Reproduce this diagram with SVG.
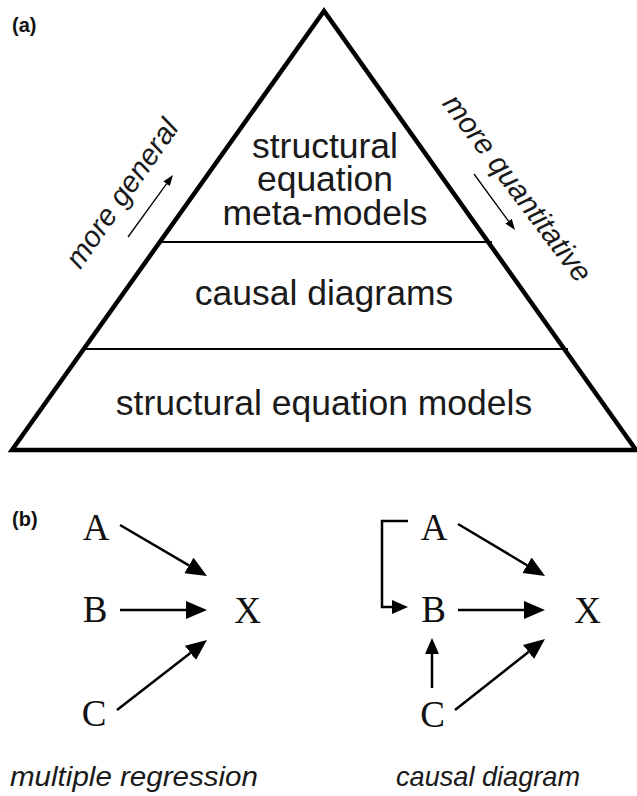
<svg xmlns="http://www.w3.org/2000/svg" width="637" height="796" viewBox="0 0 637 796">
<defs>
<style>
.lbl{font-family:"Liberation Sans",Arial,sans-serif;font-weight:bold;font-size:20px;fill:#111}
.tier{font-family:"Liberation Sans",Arial,sans-serif;font-size:35.5px;fill:#1a1a1a;text-anchor:middle}
.side{font-family:"Liberation Sans",Arial,sans-serif;font-style:italic;font-size:29.5px;fill:#1a1a1a;text-anchor:middle}
.cap{font-family:"Liberation Sans",Arial,sans-serif;font-style:italic;font-size:28.5px;fill:#1a1a1a}
.node{font-family:"Liberation Serif","Times New Roman",serif;font-size:37px;fill:#111;text-anchor:middle}
.edge{fill:none;stroke:#000;stroke-width:2.5}
.thin{fill:none;stroke:#000;stroke-width:1.3}
</style>
<marker id="big" markerUnits="userSpaceOnUse" markerWidth="24" markerHeight="20" refX="0" refY="9" orient="auto" viewBox="0 0 24 20">
<path d="M0,0 L21,9 L0,18 Z" fill="#000"/>
</marker>
<marker id="small" markerUnits="userSpaceOnUse" markerWidth="18" markerHeight="16" refX="0" refY="7" orient="auto" viewBox="0 0 18 16">
<path d="M0,0 L16,7 L0,14 Z" fill="#000"/>
</marker>
<marker id="tiny" markerUnits="userSpaceOnUse" markerWidth="12" markerHeight="10" refX="0" refY="4" orient="auto" viewBox="0 0 12 10">
<path d="M0,0 L11,4 L0,8 Z" fill="#000"/>
</marker>
</defs>
<rect width="637" height="796" fill="#fff"/>

<text class="lbl" x="12" y="32">(a)</text>

<g id="pyramid">
<line x1="158" y1="242" x2="492" y2="242" stroke="#000" stroke-width="2"/>
<line x1="82" y1="349" x2="568" y2="349" stroke="#000" stroke-width="2"/>
<polygon points="324,11 12,450 636,450" fill="none" stroke="#000" stroke-width="4.5" stroke-linejoin="miter"/>
</g>

<g id="tier-top">
<text class="tier" x="325" y="158">structural</text>
<text class="tier" x="325" y="191">equation</text>
<text class="tier" x="325" y="225">meta-models</text>
</g>
<g id="tier-mid">
<text class="tier" x="324" y="305">causal diagrams</text>
</g>
<g id="tier-bottom">
<text class="tier" x="324" y="415">structural equation models</text>
</g>

<g id="side-labels">
<text class="side" transform="translate(130,199) rotate(-55)">more general</text>
<text class="side" transform="translate(509.5,194) rotate(53)">more quantitative</text>
</g>

<text class="lbl" x="12" y="526">(b)</text>

<g id="mr-A"><text class="node" x="96" y="540">A</text></g>
<g id="mr-B"><text class="node" x="95" y="622">B</text></g>
<g id="mr-C"><text class="node" x="94" y="726">C</text></g>
<g id="mr-X"><text class="node" x="247.5" y="623">X</text></g>

<g id="cd-A"><text class="node" x="434" y="540">A</text></g>
<g id="cd-B"><text class="node" x="433.5" y="622">B</text></g>
<g id="cd-C"><text class="node" x="432.5" y="727">C</text></g>
<g id="cd-X"><text class="node" x="587.5" y="623">X</text></g>

<g id="connectors">
<line class="thin" x1="128" y1="237" x2="166.5" y2="183.9" marker-end="url(#tiny)"/>
<line class="thin" x1="474" y1="174" x2="508.5" y2="221.1" marker-end="url(#tiny)"/>

<line class="edge" x1="120" y1="525" x2="188.9" y2="565.4" marker-end="url(#big)"/>
<line class="edge" x1="120" y1="610" x2="186" y2="610" marker-end="url(#big)"/>
<line class="edge" x1="117" y1="710" x2="190.4" y2="652.9" marker-end="url(#big)"/>

<line class="edge" x1="458" y1="524" x2="527" y2="565.2" marker-end="url(#big)"/>
<line class="edge" x1="458" y1="610" x2="524" y2="610" marker-end="url(#big)"/>
<line class="edge" x1="455" y1="710" x2="528.5" y2="652" marker-end="url(#big)"/>
<line class="edge" x1="432" y1="688" x2="432" y2="654" marker-end="url(#small)"/>
<path class="edge" d="M408,521 H382 V607 H392" marker-end="url(#small)"/>
</g>

<text class="cap" x="10" y="786" textLength="248" lengthAdjust="spacingAndGlyphs">multiple regression</text>
<text class="cap" x="396" y="786" textLength="184" lengthAdjust="spacingAndGlyphs">causal diagram</text>
</svg>
